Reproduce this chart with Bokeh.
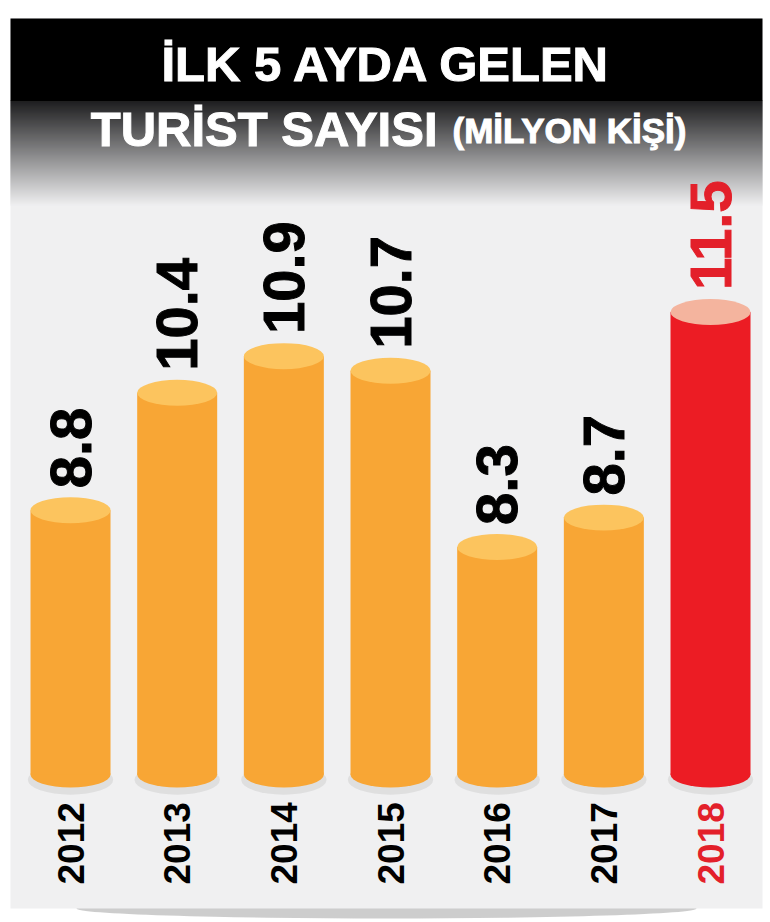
import numpy as np
from bokeh.plotting import figure
from bokeh.models import Range1d, FactorRange, ColumnDataSource
from bokeh.transform import dodge
from bokeh.core.properties import value
from bokeh.embed import file_html
from bokeh.resources import INLINE

# ---- data ----
years = ["2012", "2013", "2014", "2015", "2016", "2017", "2018"]
tourists = [8.8, 10.4, 10.9, 10.7, 8.3, 8.7, 11.5]
value_labels = ["8.8", "10.4", "10.9", "10.7", "8.3", "8.7", "11.5"]
title_line1 = "İLK 5 AYDA GELEN"
title_line2 = "TURİST SAYISI"
title_unit = "(MİLYON KİŞİ)"

# ---- style ----
FONT = "Liberation Sans"
BASE = 5.2
W, H = 770, 922
PAD = 0.03125
body_colors = ["#f8a635"] * 6 + ["#ec1c24"]
top_colors = ["#fcc45e"] * 6 + ["#f4b49e"]
label_colors = ["#000000"] * 6 + ["#e3202a"]

n = len(years)
x_start = -n * PAD / 2
unit = W / (n * (1 + PAD))


def sx(px):
    """screen x (px from left of figure) -> synthetic coordinate of the factor range"""
    return x_start + px / unit


p = figure(width=W, height=H,
           x_range=FactorRange(factors=years, range_padding=PAD),
           y_range=Range1d(3.184, 15.745),
           x_axis_location=None, y_axis_location=None,
           output_backend="svg", toolbar_location=None,
           min_border=0, outline_line_color=None,
           background_fill_color="white", border_fill_color="white")
p.grid.visible = False
p.extra_y_ranges = {"py": Range1d(H, 0)}

# panel shadow and panel background
p.ellipse(x=[sx(386)], y=[908], width=[620 / unit], height=[20], fill_color="#707070",
          fill_alpha=0.35, line_color=None, y_range_name="py")
p.quad(left=[sx(10)], right=[sx(762)], top=[18], bottom=[908], fill_color="#f0f0f1",
       line_color=None, y_range_name="py")
p.quad(left=[sx(10)], right=[sx(762)], top=[18], bottom=[100.5], fill_color="#000000",
       line_color=None, y_range_name="py")
g_top, g_bot = 100, 205
ys = np.arange(g_top, g_bot)
cols = []
for yy in ys:
    f = (yy - g_top) / (g_bot - g_top)
    c = int(round(240 * f))
    cols.append("#%02x%02x%02x" % (c, c, min(241, c + 1)))
p.quad(left=[sx(10)] * len(ys), right=[sx(762)] * len(ys), top=list(ys), bottom=list(ys + 1.3),
       fill_color=cols, line_color=None, y_range_name="py")

# title
p.text(x=[sx(386)], y=[63], text=[title_line1], y_range_name="py",
       text_align="center", text_baseline="alphabetic", text_color="white",
       text_outline_color="white",
       text_font=value(FONT), text_font_style="bold", text_font_size="49px")
p.text(x=[sx(437)], y=[128], text=[title_line2], y_range_name="py",
       text_align="right", text_baseline="alphabetic", text_color="white",
       text_outline_color="white",
       text_font=value(FONT), text_font_style="bold", text_font_size="49px")
p.text(x=[sx(452)], y=[130], text=[title_unit], y_range_name="py",
       text_align="left", text_baseline="alphabetic", text_color="white",
       text_outline_color="white",
       text_font=value(FONT), text_font_style="bold", text_font_size="35px")

# cylinders
src = ColumnDataSource(dict(year=years, val=tourists, lab=value_labels,
                            body=body_colors, top=top_colors, lc=label_colors,
                            base=[BASE] * n))
xd = dodge("year", 0.047, range=p.x_range)
p.ellipse(x=xd, y=BASE - 0.07, width=0.8, height=30, height_units="screen",
          fill_color="#9a9a9a", fill_alpha=0.2, line_color=None, source=src)
p.ellipse(x=xd, y="base", width=0.75, height=26, height_units="screen",
          fill_color="body", line_color=None, source=src)
p.vbar(x=xd, bottom="base", top="val", width=0.75, fill_color="body",
       line_color=None, source=src)
p.ellipse(x=xd, y="val", width=0.75, height=26, height_units="screen",
          fill_color="top", line_color=None, source=src)

# value labels
p.text(x=xd, y=dodge("val", 0.3), text="lab", angle=np.pi / 2,
       text_align="left", text_baseline="middle", text_color="lc",
       text_font=value(FONT), text_font_style="bold", text_font_size="58px",
       text_outline_color="lc", source=src)

# year labels
p.text(x=xd, y=884, text="year", angle=np.pi / 2, y_range_name="py",
       text_align="left", text_baseline="middle", text_color="lc",
       text_font=value(FONT), text_font_style="bold", text_font_size="37px",
       source=src)

open("out.html", "w").write(file_html(p, INLINE))
